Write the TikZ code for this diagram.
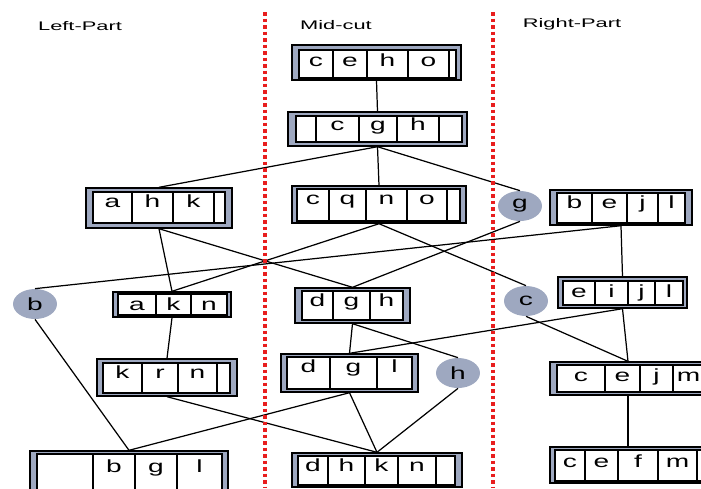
\documentclass[tikz,border=0pt]{standalone}
\usepackage{fontspec}
\usepackage{tikz}
\usetikzlibrary{fit,shapes.geometric}
\newfontfamily\cellfont[FakeStretch=1.6]{Liberation Sans}
\newfontfamily\titlefont[FakeStretch=1.75]{Liberation Sans}
\definecolor{FrameGray}{RGB}{158,168,192}
\definecolor{CutRed}{RGB}{232,30,30}

\tikzset{
 frame/.style={draw=black,fill=FrameGray,line width=0.8pt,inner sep=0pt},
 cell/.style={draw=black,fill=white,line width=0.7pt},
 letter/.style={anchor=base,inner sep=0pt,font={\cellfont\fontsize{10}{11}\selectfont}},
 vertex/.style={ellipse,fill=FrameGray,minimum width=0.88cm,minimum height=0.6cm,
  inner sep=0pt,font={\cellfont\fontsize{10}{11}\selectfont}},
 heading/.style={font={\titlefont\fontsize{7.1}{8}\selectfont}},
 link/.style={draw=black,line width=0.7pt},
 cut/.style={draw=CutRed,line width=2pt,dash pattern=on 2pt off 1.7pt}
}

\begin{document}
\begin{tikzpicture}[x=0.02cm,y=-0.02cm]
\useasboundingbox (0,0) rectangle (701,488);
\clip (0,0) rectangle (701,488);

% column headings
\node[heading] (leftpart) at (80,26) {Left-Part};
\node[heading] (midcut) at (336,25) {Mid-cut};
\node[heading] (rightpart) at (572,24) {Right-Part};

% blocks of cells
\node[frame,fit={(292,45)(461,80)}] (ceho) {};
\foreach \xa/\xb/\txt in {299/333/c,333/367/e,367/408/h,408/449/o,449/456/{}} {
 \draw[cell] (\xa,50) rectangle (\xb,78);
 \node[letter] at ({(\xa+\xb)/2},66) {\txt};
}
\node[frame,fit={(288,112)(467,146)}] (cgh) {};
\foreach \xa/\xb/\txt in {296/316/{},316/359/c,359/397/g,397/439/h,439/462/{}} {
 \draw[cell] (\xa,116) rectangle (\xb,142);
 \node[letter] at ({(\xa+\xb)/2},130) {\txt};
}
\node[frame,fit={(86,188)(232,228)}] (ahk) {};
\foreach \xa/\xb/\txt in {93/132/a,132/173/h,173/214/k,214/225/{}} {
 \draw[cell] (\xa,192) rectangle (\xb,223);
 \node[letter] at ({(\xa+\xb)/2},207) {\txt};
}
\node[frame,fit={(292,186)(466,223)}] (cqno) {};
\foreach \xa/\xb/\txt in {297/329/c,329/366/q,366/407/n,407/447/o,447/460/{}} {
 \draw[cell] (\xa,189) rectangle (\xb,221);
 \node[letter] at ({(\xa+\xb)/2},204) {\txt};
}
\node[frame,fit={(550,190)(692,225)}] (bejl) {};
\foreach \xa/\xb/\txt in {557/592/b,592/627/e,627/658/j,658/685/l} {
 \draw[cell] (\xa,193) rectangle (\xb,223);
 \node[letter] at ({(\xa+\xb)/2},208) {\txt};
}
\node[frame,fit={(113,292)(231,317)}] (akn) {};
\foreach \xa/\xb/\txt in {118/156/a,156/191/k,191/227/n} {
 \draw[cell] (\xa,294) rectangle (\xb,315);
 \node[letter] at ({(\xa+\xb)/2},310) {\txt};
}
\node[frame,fit={(295,288)(410,323)}] (dgh) {};
\foreach \xa/\xb/\txt in {302/333/d,333/370/g,370/403/h} {
 \draw[cell] (\xa,291) rectangle (\xb,320);
 \node[letter] at ({(\xa+\xb)/2},306) {\txt};
}
\node[frame,fit={(558,277)(687,308)}] (eijl) {};
\foreach \xa/\xb/\txt in {563/595/e,595/628/i,628/655/j,655/683/l} {
 \draw[cell] (\xa,281) rectangle (\xb,305);
 \node[letter] at ({(\xa+\xb)/2},297) {\txt};
}
\node[frame,fit={(97,359)(237,396)}] (krn) {};
\foreach \xa/\xb/\txt in {103/142/k,142/178/r,178/217/n,217/230/{}} {
 \draw[cell] (\xa,363) rectangle (\xb,393);
 \node[letter] at ({(\xa+\xb)/2},378) {\txt};
}
\node[frame,fit={(281,354)(418,392)}] (dgl) {};
\foreach \xa/\xb/\txt in {287/330/d,330/377/g,377/412/l} {
 \draw[cell] (\xa,357) rectangle (\xb,389);
 \node[letter] at ({(\xa+\xb)/2},372) {\txt};
}
\node[frame,fit={(550,362)(706,395)}] (cejm) {};
\foreach \xa/\xb/\txt in {557/605/c,605/640/e,640/673/j,673/704/m} {
 \draw[cell] (\xa,365) rectangle (\xb,392);
 \node[letter] at ({(\xa+\xb)/2},381) {\txt};
}
\node[frame,fit={(30,451)(228,498)}] (bgl) {};
\foreach \xa/\xb/\txt in {37/93/{},93/135/b,135/177/g,177/222/l} {
 \draw[cell] (\xa,454) rectangle (\xb,495);
 \node[letter] at ({(\xa+\xb)/2},472) {\txt};
}
\node[frame,fit={(292,453)(462,487)}] (dhkn) {};
\foreach \xa/\xb/\txt in {298/328/d,328/365/h,365/398/k,398/436/n,436/455/{}} {
 \draw[cell] (\xa,456) rectangle (\xb,485);
 \node[letter] at ({(\xa+\xb)/2},471) {\txt};
}
\node[frame,fit={(550,447)(706,483)}] (cefm) {};
\foreach \xa/\xb/\txt in {555/585/c,585/618/e,618/658/f,658/697/m,697/720/{}} {
 \draw[cell] (\xa,450) rectangle (\xb,481);
 \node[letter] at ({(\xa+\xb)/2},467) {\txt};
}

% single vertices
\node[vertex] (g) at (520,206) {g};
\node[vertex] (b) at (35,304) {b};
\node[vertex] (c) at (526,301) {c};
\node[vertex] (h) at (458,373) {h};

% edges
\draw[link] (ceho.south) -- (cgh.north);
\draw[link] (cgh.south) -- (ahk.north);
\draw[link] (cgh.south) -- (cqno.north);
\draw[link] (cgh.south) -- (g.north);
\draw[link] (ahk.south) -- (akn.north);
\draw[link] (ahk.south) -- (dgh.north);
\draw[link] (g.south) -- (dgh.north);
\draw[link] (cqno.south) -- (akn.north);
\draw[link] (cqno.south) -- (c.north);
\draw[link] (bejl.south) -- (b.north);
\draw[link] (bejl.south) -- (eijl.north);
\draw[link] (b.south) -- (bgl.north);
\draw[link] (akn.south) -- (krn.north);
\draw[link] (krn.south) -- (dhkn.north);
\draw[link] (dgh.south) -- (dgl.north);
\draw[link] (dgh.south) -- (h.north);
\draw[link] (eijl.south) -- (dgl.north);
\draw[link] (eijl.south) -- (cejm.north);
\draw[link] (c.south) -- (cejm.north);
\draw[link] (dgl.south) -- (bgl.north);
\draw[link] (dgl.south) -- (dhkn.north);
\draw[link] (h.south) -- (dhkn.north);
\draw[link] (cejm.south) -- (cefm.north);

% the two cuts
\coordinate (cuta) at (265,12);
\coordinate (cutb) at (265,488);
\coordinate (cutc) at (493,12);
\coordinate (cutd) at (493,488);
\draw[cut] (cuta) -- (cutb);
\draw[cut] (cutc) -- (cutd);
\end{tikzpicture}
\end{document}
